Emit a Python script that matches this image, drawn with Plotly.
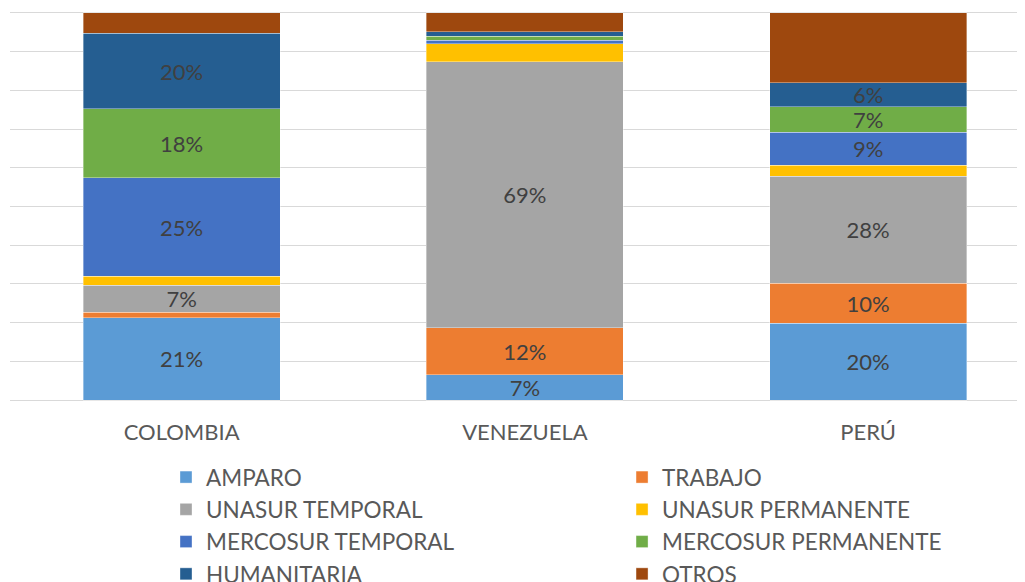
import plotly.graph_objects as go

categories = ["COLOMBIA", "VENEZUELA", "PERÚ"]
series_names = ["AMPARO", "TRABAJO", "UNASUR TEMPORAL", "UNASUR PERMANENTE",
                "MERCOSUR TEMPORAL", "MERCOSUR PERMANENTE", "HUMANITARIA", "OTROS"]
amparo = [21.3, 6.6, 19.9]
trabajo = [1.4, 12.1, 10.3]
unasur_temporal = [6.9, 68.7, 27.6]
unasur_permanente = [2.4, 4.7, 2.8]
mercosur_temporal = [25.4, 0.8, 8.6]
mercosur_permanente = [17.8, 1.1, 6.6]
humanitaria = [19.6, 1.2, 6.2]
otros = [5.2, 4.8, 18.0]
colors = ["#5B9BD5", "#ED7D31", "#A5A5A5", "#FFC000",
          "#4472C4", "#70AD47", "#255E91", "#9E480E"]
# which series carry data labels in the reference
labelled = [True, True, True, False, True, True, True, False]
# legend column for each series (two-column legend)
legend_column = ["legend", "legend2", "legend", "legend2",
                 "legend", "legend2", "legend", "legend2"]

series_values = [amparo, trabajo, unasur_temporal, unasur_permanente,
                 mercosur_temporal, mercosur_permanente, humanitaria, otros]

FONT = "Lato"
fig = go.Figure()
for name, vals, col, lab, leg in zip(series_names, series_values, colors, labelled, legend_column):
    texts = [f"{round(v)}%" if (lab and v >= 5.5) else "" for v in vals]
    fig.add_trace(go.Bar(
        name=name, x=categories, y=vals, legend=leg,
        marker=dict(color=col, line=dict(color="rgba(255,255,255,0.6)", width=0.6)),
        text=texts, texttemplate="%{text}", textposition="inside", insidetextanchor="middle",
        textangle=0, constraintext="none",
        textfont=dict(family=FONT, size=22, color="#404040"),
        hoverinfo="skip", width=0.574,
    ))

# plot area spans 391 px for 101 units (3.87 px per unit)
legend_common = dict(
    orientation="v", yanchor="top", xanchor="left", y=-0.138,
    font=dict(family=FONT, size=22.5, color="#595959"),
    traceorder="normal", itemclick=False, bgcolor="rgba(0,0,0,0)",
)
fig.update_layout(
    barmode="stack",
    width=1017, height=574,
    margin=dict(l=2, r=0, t=3, b=180, autoexpand=False),
    paper_bgcolor="white", plot_bgcolor="white",
    font=dict(family=FONT, color="#595959"),
    showlegend=True,
    legend=dict(x=0.1537, **legend_common),
    legend2=dict(x=0.603, **legend_common),
)
fig.update_xaxes(range=[-0.5, 2.457], showline=False, ticks="",
                 ticklabelstandoff=15,
                 tickfont=dict(family=FONT, size=22, color="#595959"))
fig.update_yaxes(range=[-0.5, 100.5], tick0=0, dtick=10, showticklabels=False, showgrid=True,
                 gridcolor="#D9D9D9", gridwidth=1.3, zeroline=False)

fig.write_html("out.html")
